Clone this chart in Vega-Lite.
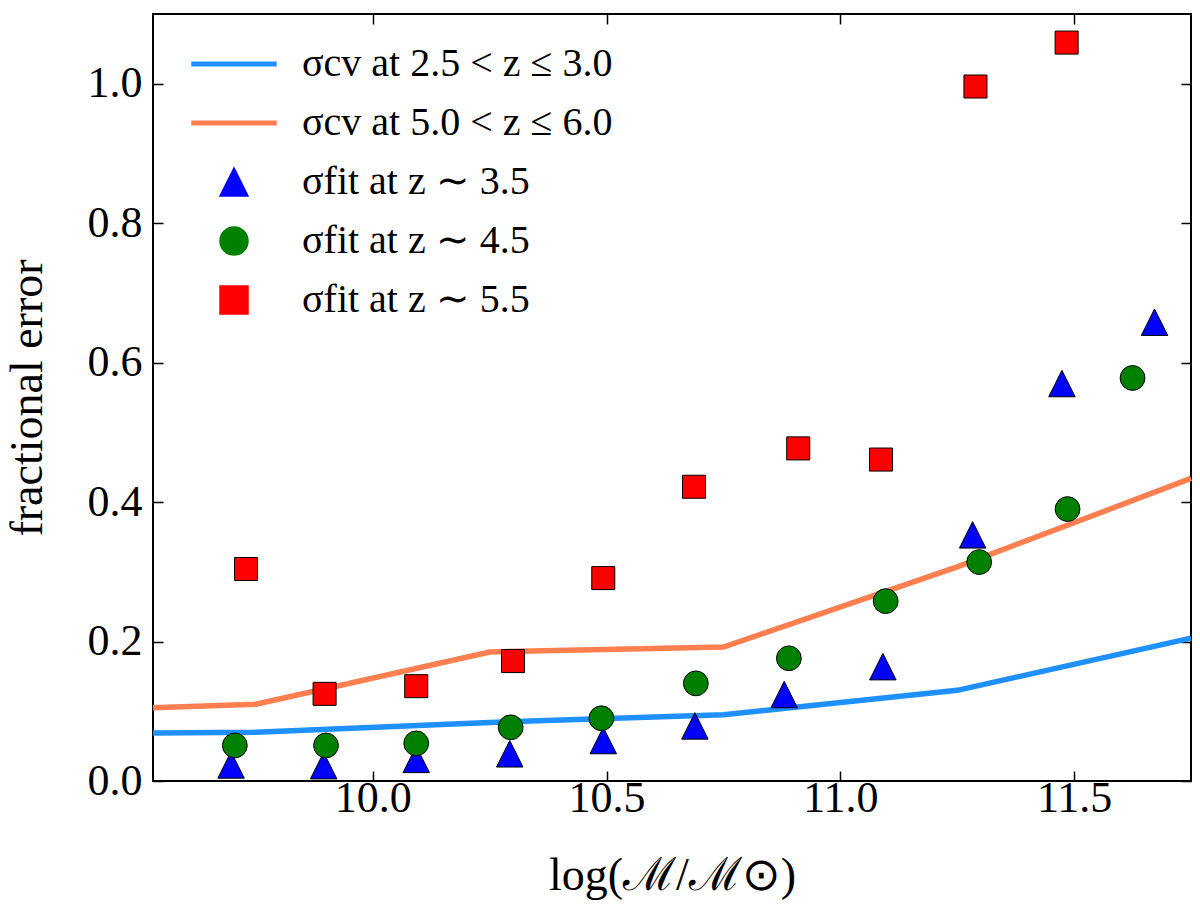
{
  "$schema": "https://vega.github.io/schema/vega-lite/v6.json",
  "description": "Fractional error vs stellar mass",
  "autosize": "none",
  "padding": {"left": 153, "top": 14, "right": 9, "bottom": 131},
  "width": 1038,
  "height": 767,
  "background": "white",
  "config": {
    "view": {"stroke": "black", "strokeWidth": 2},
    "axis": {
      "grid": false,
      "domain": false,
      "tickColor": "black",
      "tickWidth": 1.5,
      "tickSize": -10,
      "labelColor": "black",
      "labelFont": "Liberation Serif",
      "labelFontSize": 44,
      "titleColor": "black",
      "titleFont": "Liberation Serif",
      "titleFontWeight": "normal",
      "titleFontSize": 46
    },
    "legend": {
      "labelFont": "Liberation Serif",
      "labelFontSize": 40,
      "labelColor": "black",
      "labelLimit": 0
    }
  },
  "data": {
    "values": [
      {"series": "σcv at 2.5 < z ≤ 3.0", "mass": 9.53, "err": 0.069},
      {"series": "σcv at 2.5 < z ≤ 3.0", "mass": 9.75, "err": 0.070},
      {"series": "σcv at 2.5 < z ≤ 3.0", "mass": 10.25, "err": 0.084},
      {"series": "σcv at 2.5 < z ≤ 3.0", "mass": 10.75, "err": 0.095},
      {"series": "σcv at 2.5 < z ≤ 3.0", "mass": 11.25, "err": 0.130},
      {"series": "σcv at 2.5 < z ≤ 3.0", "mass": 11.75, "err": 0.205},
      {"series": "σcv at 5.0 < z ≤ 6.0", "mass": 9.53, "err": 0.105},
      {"series": "σcv at 5.0 < z ≤ 6.0", "mass": 9.75, "err": 0.110},
      {"series": "σcv at 5.0 < z ≤ 6.0", "mass": 10.25, "err": 0.185},
      {"series": "σcv at 5.0 < z ≤ 6.0", "mass": 10.75, "err": 0.192},
      {"series": "σcv at 5.0 < z ≤ 6.0", "mass": 11.25, "err": 0.307},
      {"series": "σcv at 5.0 < z ≤ 6.0", "mass": 11.75, "err": 0.434},
      {"series": "σfit at z ∼ 3.5", "mass": 9.697, "err": 0.023},
      {"series": "σfit at z ∼ 3.5", "mass": 9.895, "err": 0.022},
      {"series": "σfit at z ∼ 3.5", "mass": 10.093, "err": 0.031},
      {"series": "σfit at z ∼ 3.5", "mass": 10.293, "err": 0.039},
      {"series": "σfit at z ∼ 3.5", "mass": 10.493, "err": 0.058},
      {"series": "σfit at z ∼ 3.5", "mass": 10.689, "err": 0.079},
      {"series": "σfit at z ∼ 3.5", "mass": 10.88, "err": 0.124},
      {"series": "σfit at z ∼ 3.5", "mass": 11.091, "err": 0.164},
      {"series": "σfit at z ∼ 3.5", "mass": 11.283, "err": 0.353},
      {"series": "σfit at z ∼ 3.5", "mass": 11.474, "err": 0.570},
      {"series": "σfit at z ∼ 3.5", "mass": 11.672, "err": 0.658},
      {"series": "σfit at z ∼ 4.5", "mass": 9.705, "err": 0.051},
      {"series": "σfit at z ∼ 4.5", "mass": 9.90, "err": 0.051},
      {"series": "σfit at z ∼ 4.5", "mass": 10.093, "err": 0.054},
      {"series": "σfit at z ∼ 4.5", "mass": 10.295, "err": 0.077},
      {"series": "σfit at z ∼ 4.5", "mass": 10.489, "err": 0.090},
      {"series": "σfit at z ∼ 4.5", "mass": 10.691, "err": 0.140},
      {"series": "σfit at z ∼ 4.5", "mass": 10.89, "err": 0.176},
      {"series": "σfit at z ∼ 4.5", "mass": 11.097, "err": 0.258},
      {"series": "σfit at z ∼ 4.5", "mass": 11.297, "err": 0.314},
      {"series": "σfit at z ∼ 4.5", "mass": 11.486, "err": 0.390},
      {"series": "σfit at z ∼ 4.5", "mass": 11.625, "err": 0.578},
      {"series": "σfit at z ∼ 5.5", "mass": 9.729, "err": 0.304},
      {"series": "σfit at z ∼ 5.5", "mass": 9.897, "err": 0.125},
      {"series": "σfit at z ∼ 5.5", "mass": 10.093, "err": 0.136},
      {"series": "σfit at z ∼ 5.5", "mass": 10.30, "err": 0.172},
      {"series": "σfit at z ∼ 5.5", "mass": 10.493, "err": 0.291},
      {"series": "σfit at z ∼ 5.5", "mass": 10.687, "err": 0.422},
      {"series": "σfit at z ∼ 5.5", "mass": 10.91, "err": 0.477},
      {"series": "σfit at z ∼ 5.5", "mass": 11.087, "err": 0.461},
      {"series": "σfit at z ∼ 5.5", "mass": 11.289, "err": 0.996},
      {"series": "σfit at z ∼ 5.5", "mass": 11.484, "err": 1.059}
    ]
  },
  "layer": [
    {
      "transform": [{"filter": {"field": "series", "oneOf": ["σcv at 2.5 < z ≤ 3.0", "σcv at 5.0 < z ≤ 6.0"]}}],
      "mark": {"type": "line", "strokeWidth": 5.5},
      "encoding": {
        "x": {
          "field": "mass",
          "type": "quantitative",
          "scale": {"domain": [9.53, 11.75], "nice": false, "zero": false},
          "axis": {"orient": "bottom", "values": [10, 10.5, 11, 11.5], "format": ".1f", "labelPadding": 5, "title": "log(ℳ/ℳ⊙)", "titlePadding": 33}
        },
        "y": {
          "field": "err",
          "type": "quantitative",
          "scale": {"domain": [0, 1.1], "nice": false},
          "axis": {"orient": "left", "values": [0, 0.2, 0.4, 0.6, 0.8, 1.0], "format": ".1f", "labelPadding": 21, "title": "fractional error", "titlePadding": 36}
        },
        "color": {
          "field": "series",
          "type": "nominal",
          "sort": null,
          "scale": {
            "domain": ["σcv at 2.5 < z ≤ 3.0", "σcv at 5.0 < z ≤ 6.0", "σfit at z ∼ 3.5", "σfit at z ∼ 4.5", "σfit at z ∼ 5.5"],
            "range": ["#1e90ff", "#ff7f50", "#0000ff", "#008000", "#ff0000"]
          },
          "legend": {
            "title": null,
            "orient": "none",
            "legendX": 61,
            "legendY": 30,
            "padding": 0,
            "symbolSize": 784,
            "labelOffset": 48,
            "rowPadding": 19
          }
        }
      }
    },
    {
      "transform": [{"filter": {"field": "series", "oneOf": ["σfit at z ∼ 3.5", "σfit at z ∼ 4.5", "σfit at z ∼ 5.5"]}}],
      "mark": {"type": "point", "filled": true, "opacity": 1, "stroke": "black", "strokeWidth": 1},
      "encoding": {
        "x": {
          "field": "mass",
          "type": "quantitative",
          "axis": {"orient": "top", "values": [10, 10.5, 11, 11.5], "labels": false, "title": null}
        },
        "y": {
          "field": "err",
          "type": "quantitative",
          "axis": {"orient": "right", "values": [0, 0.2, 0.4, 0.6, 0.8, 1.0], "labels": false, "title": null}
        },
        "color": {
          "field": "series",
          "type": "nominal",
          "sort": null,
          "legend": {
            "title": null,
            "orient": "none",
            "legendX": 61,
            "legendY": 30,
            "padding": 0,
            "symbolSize": 784,
            "labelOffset": 48,
            "rowPadding": 19
          }
        },
        "shape": {
          "field": "series",
          "type": "nominal",
          "sort": null,
          "scale": {
            "domain": ["σcv at 2.5 < z ≤ 3.0", "σcv at 5.0 < z ≤ 6.0", "σfit at z ∼ 3.5", "σfit at z ∼ 4.5", "σfit at z ∼ 5.5"],
            "range": ["M-3,-0.13L3,-0.13L3,0.13L-3,0.13Z", "M-3,-0.13L3,-0.13L3,0.13L-3,0.13Z", "M0,-1L-1,1L1,1Z", "circle", "square"]
          },
          "legend": {
            "title": null,
            "orient": "none",
            "legendX": 61,
            "legendY": 30,
            "padding": 0,
            "symbolSize": 784,
            "labelOffset": 48,
            "rowPadding": 19
          }
        },
        "size": {
          "field": "series",
          "type": "nominal",
          "scale": {"domain": ["σfit at z ∼ 3.5", "σfit at z ∼ 4.5", "σfit at z ∼ 5.5"], "range": [700, 530, 680]},
          "legend": null
        }
      }
    }
  ],
  "resolve": {"axis": {"x": "independent", "y": "independent"}}
}
